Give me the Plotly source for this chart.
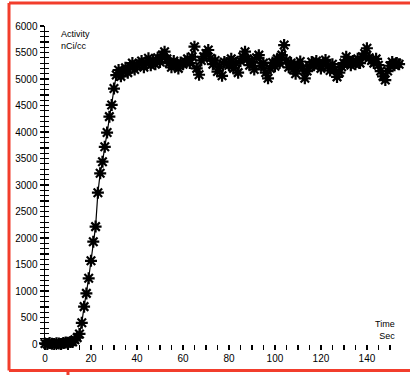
import plotly.graph_objects as go

# Time (sec)
times = [
    0, 1, 2, 3, 4, 5, 6, 7, 8, 9, 10, 11, 12, 13, 14, 15, 16, 17, 18, 19,
    20, 21, 22, 23, 24, 25, 26, 27, 28, 29, 30, 31, 32, 33, 34, 35, 36, 37, 38, 39,
    40, 41, 42, 43, 44, 45, 46, 47, 48, 49, 50, 51, 52, 53, 54, 55, 56, 57, 58, 59,
    60, 61, 62, 63, 64, 65, 66, 67, 68, 69, 70, 71, 72, 73, 74, 75, 76, 77, 78, 79,
    80, 81, 82, 83, 84, 85, 86, 87, 88, 89, 90, 91, 92, 93, 94, 95, 96, 97, 98, 99,
    100, 101, 102, 103, 104, 105, 106, 107, 108, 109, 110, 111, 112, 113, 114, 115, 116, 117, 118, 119,
    120, 121, 122, 123, 124, 125, 126, 127, 128, 129, 130, 131, 132, 133, 134, 135, 136, 137, 138, 139,
    140, 141, 142, 143, 144, 145, 146, 147, 148, 149, 150, 151, 152, 153, 154,
]

# Activity (nCi/cc)
activity = [
    10, 0, 20, 5, 0, 15, 10, 0, 20, 30, 25, 40, 40, 80, 120, 190, 400, 705, 955, 1240,
    1570, 1930, 2215, 2855, 3220, 3440, 3720, 3990, 4290, 4510, 4820, 5075, 5170, 5050, 5140, 5210, 5120, 5230, 5300, 5180,
    5260, 5290, 5340, 5220, 5310, 5390, 5260, 5350, 5280, 5400, 5320, 5450, 5515, 5380, 5300, 5220, 5340, 5260, 5200, 5310,
    5280, 5325, 5380, 5300, 5420, 5610, 5200, 5080, 5350, 5420, 5480, 5547, 5390, 5280, 5350, 5140, 5240, 5060, 5320, 5300,
    5260, 5380, 5200, 5300, 5120, 5340, 5420, 5515, 5380, 5260, 5320, 5180, 5400, 5450, 5250, 5300, 5120, 5013, 5200, 5310,
    5240, 5380, 5300, 5450, 5640, 5350, 5220, 5300, 5180, 5100, 5260, 5330, 5200, 5013, 5150, 5240, 5320, 5260, 5340, 5280,
    5200, 5300, 5360, 5240, 5160, 5280, 5180, 5040, 5120, 5230, 5300, 5420, 5350, 5260, 5340, 5280, 5380, 5300, 5420, 5480,
    5580, 5400, 5350, 5300, 5380, 5260, 5150, 5050, 4980, 5150, 5250, 5320, 5260, 5300, 5280,
]

x_major = [0, 20, 40, 60, 80, 100, 120, 140]
x_minor = [5, 10, 15, 25, 30, 35, 45, 50, 55, 65, 70, 75, 85, 90, 95, 105, 110, 115,
           125, 130, 135, 145, 150]
y_ticks = [0, 500, 1000, 1500, 2000, 2500, 3000, 3500, 4000, 4500, 5000, 5500, 6000]

FONT = "Liberation Sans"
RED = "#f23d2c"

fig = go.Figure()
fig.add_trace(go.Scatter(
    x=times, y=activity, mode="lines+markers",
    line=dict(color="black", width=1.2),
    marker=dict(symbol="asterisk-open", size=10, color="black",
                line=dict(color="black", width=2.2)),
    cliponaxis=False, showlegend=False, hoverinfo="skip",
))
# helper trace so the overlay axis (inside ticks) is drawn
fig.add_trace(go.Scatter(
    x=[times[0]], y=[activity[0]], yaxis="y2", mode="markers",
    marker=dict(opacity=0), showlegend=False, hoverinfo="skip",
))

fig.update_layout(
    width=410, height=375, autosize=False,
    margin=dict(l=45, r=4, t=26, b=31),
    paper_bgcolor="white", plot_bgcolor="white",
    font=dict(family=FONT, size=10, color="black"),
    xaxis=dict(
        range=[0, 157], showline=False, showgrid=False, zeroline=False,
        tickvals=x_major, ticks="outside", ticklen=5, tickwidth=1.5, tickcolor="black",
        minor=dict(tickvals=x_minor, ticks="outside", ticklen=5, tickwidth=1.5, tickcolor="black"),
        tickfont=dict(family=FONT, size=10, color="black"),
    ),
    yaxis=dict(
        range=[0, 6000], showline=True, linecolor="black", linewidth=1.5,
        showgrid=False, zeroline=False,
        tickvals=y_ticks, ticks="outside", ticklen=4, tickwidth=1.5, tickcolor="black",
        minor=dict(dtick=100, ticks="outside", ticklen=4, tickwidth=1.2, tickcolor="black"),
        tickfont=dict(family=FONT, size=10, color="black"),
    ),
    yaxis2=dict(
        range=[0, 6000], overlaying="y", side="left", showline=False,
        showgrid=False, zeroline=False, showticklabels=False,
        dtick=100, ticks="inside", ticklen=4, tickwidth=1.2, tickcolor="black",
    ),
)

fig.add_annotation(x=0.04, y=0.997, xref="paper", yref="paper", xanchor="left", yanchor="top",
                   text="Activity<br>nCi/cc", showarrow=False, align="left",
                   font=dict(family=FONT, size=9, color="black"))
fig.add_annotation(x=0.975, y=0.085, xref="paper", yref="paper", xanchor="right", yanchor="top",
                   text="Time<br>Sec", showarrow=False, align="right",
                   font=dict(family=FONT, size=9, color="black"))

# red frame around the picture
for x0, y0, x1, y1 in [(-0.0997, 1.0723, 1.03, 1.0723),
                       (-0.0997, 1.0723, -0.0997, -0.0833),
                       (-0.0997, -0.0833, 1.03, -0.0833),
                       (0.0637, -0.0833, 0.0637, -0.11)]:
    fig.add_shape(type="line", xref="paper", yref="paper", x0=x0, y0=y0, x1=x1, y1=y1,
                  line=dict(color=RED, width=3), layer="above")

fig.write_html("out.html",
               config={"responsive": False, "displayModeBar": False, "staticPlot": True},
               post_script="document.body.style.margin='0';document.body.style.overflow='hidden';")
